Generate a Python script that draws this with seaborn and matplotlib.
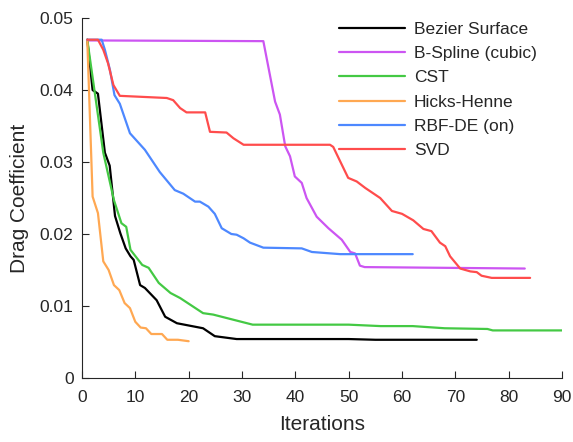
import numpy as np
import pandas as pd
import matplotlib
matplotlib.use("Agg")
import matplotlib.pyplot as plt
import seaborn as sns

methods = ["Bezier Surface", "B-Spline (cubic)", "CST", "Hicks-Henne", "RBF-DE (on)", "SVD"]
colors = ["#000000", "#CC55F2", "#44C944", "#FFA852", "#4D88FF", "#FF4C4C"]

bez_x = [1, 2, 3, 4.3, 5.2, 6.2, 7.2, 8.2, 9.1, 9.7, 10.9, 11.8, 14, 15.6, 17.8, 22.7, 24.9, 29, 50, 55, 74]
bez_y = [0.047, 0.0400, 0.0395, 0.0313, 0.0295, 0.0225, 0.0201, 0.0180, 0.0169, 0.0164, 0.0129, 0.0125,
         0.0108, 0.0085, 0.0076, 0.0069, 0.0058, 0.0054, 0.0054, 0.0053, 0.0053]

bsp_x = [1, 34, 36.2, 37.1, 38.1, 39, 39.9, 41.2, 42.1, 44, 46.2, 48.7, 50.3, 51.2, 52.1, 53, 83]
bsp_y = [0.0469, 0.0468, 0.0384, 0.0366, 0.0322, 0.0308, 0.0280, 0.0271, 0.0250, 0.0224, 0.0208,
         0.0192, 0.0175, 0.0173, 0.0156, 0.0154, 0.0152]

cst_x = [1, 4, 6, 7.4, 8.3, 9.1, 11.3, 12.5, 14.4, 16.6, 18.4, 22.7, 24.6, 32, 50, 56, 62, 68, 76, 77, 90]
cst_y = [0.047, 0.0313, 0.0247, 0.0215, 0.0210, 0.0178, 0.0157, 0.0153, 0.0132, 0.0118, 0.0111, 0.0090,
         0.0088, 0.0074, 0.0074, 0.0072, 0.0072, 0.0069, 0.0068, 0.0066, 0.0066]

hh_x = [1, 2, 3, 4, 5, 6, 7, 8, 9, 10, 11, 12, 13, 15, 16, 18, 20]
hh_y = [0.047, 0.0252, 0.0229, 0.0162, 0.0150, 0.0129, 0.0122, 0.0104, 0.0097, 0.0078, 0.0070, 0.0069,
        0.0061, 0.0061, 0.0053, 0.0053, 0.0051]

rbf_x = [1, 3.7, 4.3, 5.25, 6.1, 7.1, 9, 11.8, 14.6, 17.4, 19, 21.2, 22.1, 23.7, 24.9, 26.2, 28, 29,
         30.3, 31.5, 34, 41.2, 43.1, 48.4, 62]
rbf_y = [0.047, 0.047, 0.0456, 0.0428, 0.0393, 0.0381, 0.0340, 0.0317, 0.0286, 0.0261, 0.0256, 0.0245,
         0.0245, 0.0238, 0.0228, 0.0208, 0.0200, 0.0199, 0.0194, 0.0188, 0.0181, 0.0180, 0.0175, 0.0172, 0.0172]

svd_x = [1, 3, 4, 4.9, 5.9, 7.1, 15.9, 17.1, 18.4, 19.6, 23.1, 24, 27.1, 28.4, 30.3, 46.5, 47.1, 48.4, 49.9,
         51.5, 53.1, 55.9, 58.1, 60, 62.1, 64, 65.5, 67.1, 68.1, 69, 70.9, 72.8, 74, 74.9, 76.8, 84]
svd_y = [0.047, 0.047, 0.0456, 0.0437, 0.0407, 0.0392, 0.0389, 0.0386, 0.0375, 0.0369, 0.0369, 0.0342,
         0.0341, 0.0333, 0.0324, 0.0324, 0.0321, 0.0301, 0.0278, 0.0273, 0.0264, 0.0250, 0.0232, 0.0228,
         0.0219, 0.0207, 0.0204, 0.0188, 0.0183, 0.0169, 0.0152, 0.0148, 0.0147, 0.0142, 0.0139, 0.0139]

xs = [bez_x, bsp_x, cst_x, hh_x, rbf_x, svd_x]
ys = [bez_y, bsp_y, cst_y, hh_y, rbf_y, svd_y]

frames = []
for m, x, y in zip(methods, xs, ys):
    frames.append(pd.DataFrame({"Iterations": x, "Drag Coefficient": y, "Method": m}))
df = pd.concat(frames, ignore_index=True)

sns.set_style("white")
plt.rcParams["font.family"] = ["Liberation Sans", "DejaVu Sans"]

fig = plt.figure(figsize=(5.73, 4.42), dpi=100)
ax = fig.add_axes([0.143, 0.145, 0.838, 0.814])

sns.lineplot(data=df, x="Iterations", y="Drag Coefficient", hue="Method", hue_order=methods,
             palette=dict(zip(methods, colors)), sort=False, estimator=None, units="Method",
             linewidth=1.6, ax=ax)

ax.set_xlim(0, 90)
ax.set_ylim(0, 0.05)
ax.set_xticks(np.arange(0, 91, 10))
ax.set_yticks([0, 0.01, 0.02, 0.03, 0.04, 0.05])
ax.set_yticklabels(["0", "0.01", "0.02", "0.03", "0.04", "0.05"])
ax.tick_params(direction="in", length=5, width=0.8, labelsize=12.5, colors="#262626",
               bottom=True, left=True, pad=6)
ax.tick_params(axis="x", pad=9)
for s in ["top", "right"]:
    ax.spines[s].set_visible(False)
for s in ["left", "bottom"]:
    ax.spines[s].set_color("#262626")
    ax.spines[s].set_linewidth(0.8)
ax.set_xlabel("Iterations", fontsize=15, color="#262626", labelpad=7)
ax.set_ylabel("Drag Coefficient", fontsize=15, color="#262626", labelpad=8)

leg = ax.legend(loc="upper left", bbox_to_anchor=(0.52, 1.01), frameon=False, fontsize=12.5,
                handlelength=3.8, handletextpad=0.55, labelspacing=0.53, borderaxespad=0)
for line in leg.get_lines():
    line.set_linewidth(1.6)

fig.savefig("out.png", dpi=100)
